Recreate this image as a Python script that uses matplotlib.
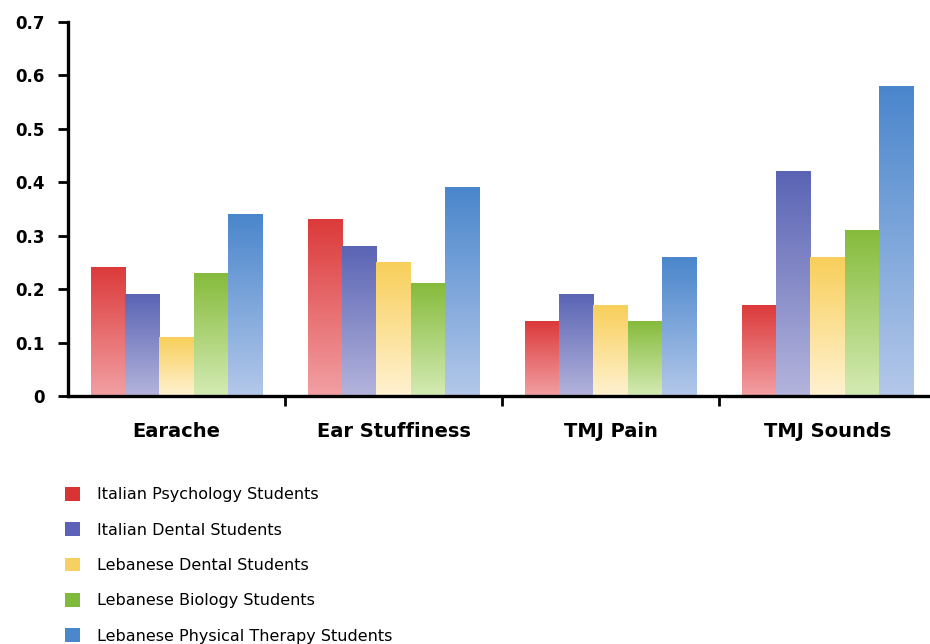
import numpy as np
import matplotlib
matplotlib.use("Agg")
import matplotlib.pyplot as plt
from matplotlib.patches import Patch
from matplotlib.colors import LinearSegmentedColormap

plt.rcParams['font.family'] = ['DejaVu Sans']

categories = ["Earache", "Ear Stuffiness", "TMJ Pain", "TMJ Sounds"]
series = ["Italian Psychology Students", "Italian Dental Students",
          "Lebanese Dental Students", "Lebanese Biology Students",
          "Lebanese Physical Therapy Students"]
ital_psych = [0.24, 0.33, 0.14, 0.17]
ital_dental = [0.19, 0.28, 0.19, 0.42]
leb_dental = [0.11, 0.25, 0.17, 0.26]
leb_bio = [0.23, 0.21, 0.14, 0.31]
leb_pt = [0.34, 0.39, 0.26, 0.58]
values = [ital_psych, ital_dental, leb_dental, leb_bio, leb_pt]
yticks = [0, 0.1, 0.2, 0.3, 0.4, 0.5, 0.6, 0.7]
ytick_labels = ["0", "0.1", "0.2", "0.3", "0.4", "0.5", "0.6", "0.7"]

top_colors = ["#dc3a3a", "#5a64b4", "#f8cf5a", "#86bb3c", "#4a86cc"]
bot_colors = ["#f2a0a4", "#b4b4dc", "#fff2d2", "#d4ebb4", "#b4c8ea"]
legend_colors = ["#d83434", "#5c62b8", "#f6d060", "#80ba3a", "#4a88cc"]

fig = plt.figure(figsize=(9.3, 6.44), dpi=100)
ax = fig.add_axes([68/930, 248/644, 868/930, 374/644])

x = np.arange(len(categories))
bw = 0.158
grad = np.linspace(1, 0, 256).reshape(-1, 1)
for i, vals in enumerate(values):
    offs = (i - 2) * bw
    bars = ax.bar(x + offs, vals, width=bw, color='none', edgecolor='none', zorder=2)
    cmap = LinearSegmentedColormap.from_list(f"g{i}", [bot_colors[i], top_colors[i]])
    for b in bars:
        x0, w, h = b.get_x(), b.get_width(), b.get_height()
        ax.imshow(grad, extent=[x0, x0 + w, 0, h], aspect='auto', cmap=cmap,
                  vmin=0, vmax=1, origin='upper', zorder=2, interpolation='bilinear')

ax.set_xlim(-0.5, 3.5)
ax.set_ylim(0, 0.7)
ax.set_yticks(yticks)
ax.set_yticklabels(ytick_labels, fontsize=12, fontweight='bold')
ax.set_xticks([0.5, 1.5, 2.5])
ax.set_xticklabels([])
ax.set_xticks(x, minor=True)
ax.set_xticklabels(categories, minor=True, fontsize=14, fontweight='bold')
ax.tick_params(axis='x', which='minor', length=0, pad=19)
ax.tick_params(axis='x', which='major', length=7, width=2, direction='out')
ax.tick_params(axis='y', length=7, width=2, direction='out', pad=10)
for s in ['top', 'right']:
    ax.spines[s].set_visible(False)
for s in ['left', 'bottom']:
    ax.spines[s].set_linewidth(2.4)

handles = [Patch(facecolor=c, edgecolor='none') for c in legend_colors]
fig.legend(handles, series, loc='upper left', bbox_to_anchor=(65/930, 1 - 487/644),
           frameon=False, fontsize=11.5, labelspacing=1.25, handlelength=0.95,
           handleheight=0.95, handletextpad=1.05, borderpad=0, borderaxespad=0)

fig.savefig("out.png", dpi=100)
